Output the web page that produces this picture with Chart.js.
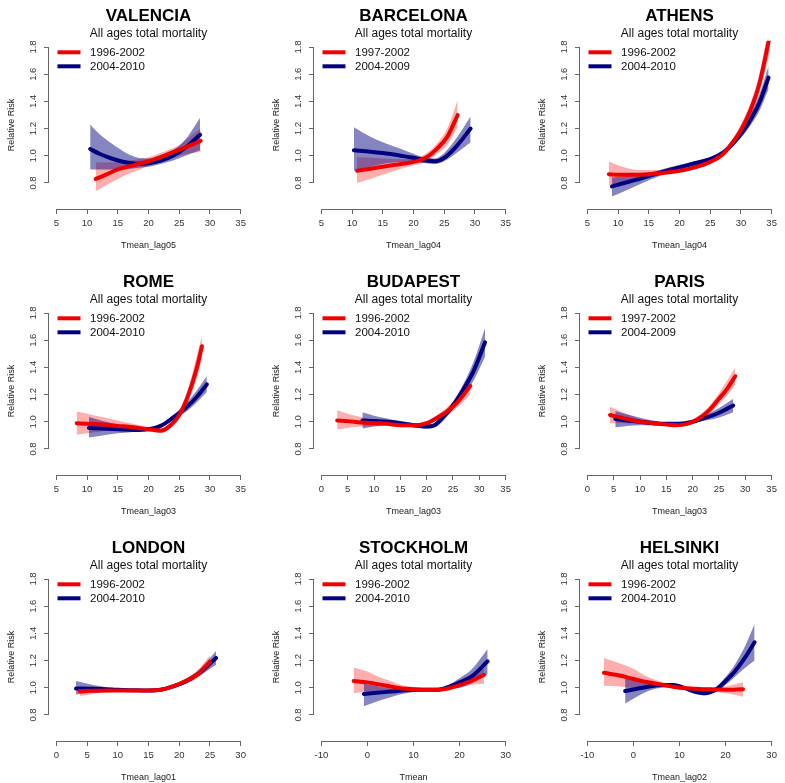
<!DOCTYPE html>
<html>
<head>
<meta charset="utf-8">
<script src="https://cdn.jsdelivr.net/npm/chart.js@4/dist/chart.umd.min.js"></script>
<style>
html, body { margin: 0; padding: 0; background: #fff; }
#wrap { position: relative; width: 785px; height: 783px; overflow: hidden; }
.panel { position: absolute; width: 266px; height: 266px; }
</style>
</head>
<body>
<div id="wrap"></div>
<script>
// legend labels (periods)
const periodsA = ['1996-2002', '2004-2010'];
const periodsB = ['1997-2002', '2004-2009'];

// tick labels
const yTicks = [0.8, 1.0, 1.2, 1.4, 1.6, 1.8];
const xTicks5 = [5, 10, 15, 20, 25, 30, 35];
const xTicks0 = [0, 5, 10, 15, 20, 25, 30, 35];
const xTicksLondon = [0, 5, 10, 15, 20, 25, 30];
const xTicksNordic = [-10, 0, 10, 20, 30];

// VALENCIA
const valenciaRedX  = [11.4, 13, 15, 17.5, 20, 22.5, 25, 27, 28.5];
const valenciaRedRR = [0.83, 0.86, 0.90, 0.93, 0.96, 1.0, 1.045, 1.08, 1.11];
const valenciaRedLo = [0.74, 0.78, 0.83, 0.88, 0.925, 0.96, 1.0, 1.02, 1.03];
const valenciaRedHi = [0.95, 0.95, 0.955, 0.97, 0.99, 1.03, 1.08, 1.15, 1.20];
const valenciaBlueX  = [10.5, 12, 14, 16, 18, 20, 22, 24, 26, 28.4];
const valenciaBlueRR = [1.05, 1.015, 0.98, 0.955, 0.942, 0.945, 0.965, 1.0, 1.06, 1.155];
const valenciaBlueLo = [0.90, 0.90, 0.90, 0.90, 0.91, 0.92, 0.94, 0.965, 1.0, 1.04];
const valenciaBlueHi = [1.23, 1.16, 1.09, 1.03, 0.99, 0.98, 0.995, 1.04, 1.12, 1.28];

// BARCELONA
const barcelonaRedX  = [10.8, 13, 15, 18, 20, 22, 24, 25.5, 27.2];
const barcelonaRedRR = [0.89, 0.905, 0.92, 0.94, 0.955, 0.985, 1.06, 1.14, 1.30];
const barcelonaRedLo = [0.80, 0.83, 0.86, 0.905, 0.93, 0.955, 1.02, 1.08, 1.21];
const barcelonaRedHi = [0.99, 0.985, 0.98, 0.975, 0.98, 1.015, 1.10, 1.20, 1.41];
const barcelonaBlueX  = [10.3, 13, 15, 18, 20, 22, 23.5, 25, 27, 29.3];
const barcelonaBlueRR = [1.04, 1.03, 1.02, 1.0, 0.985, 0.965, 0.96, 0.985, 1.07, 1.20];
const barcelonaBlueLo = [0.89, 0.92, 0.94, 0.955, 0.955, 0.945, 0.94, 0.96, 1.02, 1.10];
const barcelonaBlueHi = [1.21, 1.14, 1.10, 1.05, 1.015, 0.985, 0.98, 1.02, 1.13, 1.29];

// ATHENS
const athensRedX  = [8.5, 10, 12.5, 15, 17.5, 20, 22.5, 25, 27, 28.5, 30, 31.5, 33, 34.7];
const athensRedRR = [0.865, 0.86, 0.86, 0.865, 0.875, 0.89, 0.915, 0.955, 1.01, 1.09, 1.19, 1.33, 1.53, 1.88];
const athensRedLo = [0.78, 0.80, 0.83, 0.845, 0.86, 0.875, 0.90, 0.94, 0.995, 1.06, 1.155, 1.28, 1.46, 1.76];
const athensRedHi = [0.96, 0.93, 0.90, 0.895, 0.895, 0.905, 0.93, 0.97, 1.03, 1.11, 1.23, 1.38, 1.60, 2.0];
const athensBlueX  = [9, 11, 13, 15, 17.5, 20, 22.5, 25, 27, 28.5, 30, 31.5, 33, 34.5];
const athensBlueRR = [0.775, 0.80, 0.825, 0.85, 0.885, 0.915, 0.945, 0.975, 1.02, 1.08, 1.16, 1.26, 1.39, 1.575];
const athensBlueLo = [0.70, 0.74, 0.78, 0.82, 0.865, 0.90, 0.93, 0.96, 1.0, 1.06, 1.13, 1.22, 1.33, 1.49];
const athensBlueHi = [0.84, 0.85, 0.86, 0.875, 0.905, 0.935, 0.96, 0.99, 1.04, 1.10, 1.19, 1.30, 1.45, 1.66];

// ROME
const romeRedX  = [8.3, 10, 12.5, 15, 17.5, 20, 22, 23.5, 25, 26.5, 28, 28.7];
const romeRedRR = [0.99, 0.985, 0.98, 0.97, 0.96, 0.945, 0.935, 0.97, 1.05, 1.20, 1.42, 1.555];
const romeRedLo = [0.905, 0.915, 0.93, 0.945, 0.94, 0.93, 0.92, 0.95, 1.02, 1.15, 1.34, 1.47];
const romeRedHi = [1.075, 1.06, 1.035, 1.01, 0.985, 0.96, 0.95, 0.99, 1.08, 1.25, 1.51, 1.63];
const romeBlueX  = [10.3, 12.5, 15, 17.5, 20, 22, 24, 26, 28, 29.5];
const romeBlueRR = [0.955, 0.95, 0.945, 0.94, 0.945, 0.97, 1.03, 1.10, 1.19, 1.275];
const romeBlueLo = [0.885, 0.90, 0.915, 0.925, 0.935, 0.955, 1.01, 1.07, 1.15, 1.22];
const romeBlueHi = [1.035, 1.005, 0.98, 0.96, 0.955, 0.985, 1.05, 1.13, 1.24, 1.335];

// BUDAPEST
const budapestRedX  = [3, 5, 7.5, 10, 12.5, 15, 18, 20, 22, 24, 26, 28.3];
const budapestRedRR = [1.01, 1.005, 0.995, 0.99, 0.985, 0.975, 0.975, 0.99, 1.03, 1.08, 1.15, 1.265];
const budapestRedLo = [0.945, 0.955, 0.965, 0.97, 0.97, 0.965, 0.96, 0.975, 1.01, 1.05, 1.11, 1.20];
const budapestRedHi = [1.085, 1.06, 1.035, 1.015, 1.0, 0.99, 0.99, 1.005, 1.05, 1.11, 1.19, 1.30];
const budapestBlueX  = [7.8, 10, 12.5, 15, 17.5, 20, 21.5, 23, 25, 27, 29, 31.1];
const budapestBlueRR = [1.01, 1.005, 1.0, 0.99, 0.975, 0.965, 0.975, 1.03, 1.12, 1.24, 1.38, 1.585];
const budapestBlueLo = [0.95, 0.965, 0.975, 0.975, 0.96, 0.95, 0.96, 1.0, 1.09, 1.19, 1.31, 1.48];
const budapestBlueHi = [1.07, 1.045, 1.025, 1.005, 0.99, 0.98, 0.99, 1.05, 1.15, 1.28, 1.45, 1.69];

// PARIS
const parisRedX  = [4.3, 7, 10, 12.5, 15, 17, 19, 21, 23, 25, 26.5, 28.1];
const parisRedRR = [1.05, 1.025, 1.0, 0.99, 0.98, 0.975, 0.985, 1.02, 1.08, 1.17, 1.24, 1.335];
const parisRedLo = [0.99, 0.99, 0.985, 0.98, 0.97, 0.965, 0.975, 1.005, 1.05, 1.13, 1.19, 1.27];
const parisRedHi = [1.11, 1.065, 1.02, 1.0, 0.99, 0.985, 0.995, 1.035, 1.11, 1.21, 1.30, 1.40];
const parisBlueX  = [5.3, 7.5, 10, 12.5, 15, 17.5, 20, 22, 24, 26, 27.7];
const parisBlueRR = [1.02, 1.01, 1.0, 0.99, 0.985, 0.985, 1.0, 1.025, 1.05, 1.085, 1.12];
const parisBlueLo = [0.96, 0.97, 0.975, 0.975, 0.975, 0.975, 0.99, 1.005, 1.02, 1.045, 1.07];
const parisBlueHi = [1.08, 1.055, 1.03, 1.01, 0.995, 0.995, 1.01, 1.045, 1.08, 1.125, 1.17];

// LONDON
const londonRedX  = [3.8, 6, 8, 10, 12.5, 15, 17, 19, 21, 23, 25];
const londonRedRR = [0.976, 0.978, 0.98, 0.98, 0.98, 0.98, 0.985, 1.01, 1.05, 1.10, 1.19];
const londonRedLo = [0.94, 0.955, 0.965, 0.97, 0.973, 0.975, 0.978, 1.0, 1.03, 1.07, 1.15];
const londonRedHi = [1.01, 1.0, 0.995, 0.99, 0.987, 0.985, 0.992, 1.02, 1.065, 1.13, 1.24];
const londonBlueX  = [3.2, 6, 8, 10, 12.5, 15, 17, 19, 21, 23, 26];
const londonBlueRR = [0.995, 0.993, 0.99, 0.985, 0.982, 0.98, 0.985, 1.01, 1.045, 1.10, 1.22];
const londonBlueLo = [0.95, 0.965, 0.97, 0.975, 0.975, 0.975, 0.978, 1.0, 1.03, 1.08, 1.17];
const londonBlueHi = [1.05, 1.02, 1.005, 0.995, 0.99, 0.985, 0.993, 1.02, 1.06, 1.12, 1.27];

// STOCKHOLM
const stockholmRedX  = [-3, 0, 2.5, 5, 7.5, 10, 12.5, 15, 17.5, 20, 22.5, 25.3];
const stockholmRedRR = [1.05, 1.04, 1.025, 1.01, 0.995, 0.99, 0.985, 0.985, 0.995, 1.02, 1.05, 1.094];
const stockholmRedLo = [0.96, 0.975, 0.98, 0.98, 0.98, 0.975, 0.978, 0.98, 0.99, 1.0, 1.02, 1.03];
const stockholmRedHi = [1.15, 1.12, 1.08, 1.05, 1.02, 1.005, 0.995, 0.99, 1.0, 1.04, 1.08, 1.14];
const stockholmBlueX  = [-0.8, 2.5, 5, 7.5, 10, 12.5, 15, 17.5, 20, 22.5, 26.1];
const stockholmBlueRR = [0.955, 0.965, 0.972, 0.98, 0.985, 0.985, 0.985, 1.005, 1.04, 1.08, 1.195];
const stockholmBlueLo = [0.865, 0.905, 0.93, 0.955, 0.97, 0.978, 0.98, 0.99, 1.0, 1.03, 1.10];
const stockholmBlueHi = [1.03, 1.01, 0.995, 0.99, 0.995, 0.99, 0.99, 1.02, 1.07, 1.13, 1.285];

// HELSINKI
const helsinkiRedX  = [-6.4, -3, 0, 2.5, 5, 7.5, 10, 12.5, 15, 17.5, 20, 23.8];
const helsinkiRedRR = [1.11, 1.09, 1.065, 1.045, 1.03, 1.015, 1.0, 0.995, 0.99, 0.988, 0.986, 0.99];
const helsinkiRedLo = [1.015, 1.01, 1.0, 1.0, 1.005, 1.0, 0.99, 0.985, 0.975, 0.97, 0.96, 0.935];
const helsinkiRedHi = [1.22, 1.18, 1.14, 1.09, 1.055, 1.03, 1.01, 1.005, 1.0, 1.005, 1.01, 1.04];
const helsinkiBlueX  = [-1.8, 1, 3.5, 6, 8.5, 11, 13, 15.5, 18, 20, 22, 24, 26.3];
const helsinkiBlueRR = [0.976, 0.995, 1.01, 1.02, 1.02, 1.0, 0.975, 0.96, 0.99, 1.05, 1.12, 1.21, 1.335];
const helsinkiBlueLo = [0.885, 0.94, 0.98, 1.0, 1.005, 0.99, 0.965, 0.945, 0.97, 1.02, 1.08, 1.14, 1.20];
const helsinkiBlueHi = [1.07, 1.05, 1.04, 1.035, 1.035, 1.015, 0.99, 0.98, 1.01, 1.08, 1.17, 1.29, 1.47];

const FONT = "'Liberation Sans', Arial, sans-serif";
const RED = '#f00000';
const NAVY = '#000080';
const RED_BAND = 'rgba(255, 0, 0, 0.32)';
const BLUE_BAND = 'rgba(0, 0, 128, 0.48)';
const AXIS = '#666';
const NONE = 'rgba(0,0,0,0)';

const panels = [
  { city: 'VALENCIA', periods: periodsA, xTitle: 'Tmean_lag05', xTicks: xTicks5,
    red: [valenciaRedX, valenciaRedRR, valenciaRedLo, valenciaRedHi],
    blue: [valenciaBlueX, valenciaBlueRR, valenciaBlueLo, valenciaBlueHi] },
  { city: 'BARCELONA', periods: periodsB, xTitle: 'Tmean_lag04', xTicks: xTicks5,
    red: [barcelonaRedX, barcelonaRedRR, barcelonaRedLo, barcelonaRedHi],
    blue: [barcelonaBlueX, barcelonaBlueRR, barcelonaBlueLo, barcelonaBlueHi] },
  { city: 'ATHENS', periods: periodsA, xTitle: 'Tmean_lag04', xTicks: xTicks5,
    red: [athensRedX, athensRedRR, athensRedLo, athensRedHi],
    blue: [athensBlueX, athensBlueRR, athensBlueLo, athensBlueHi] },
  { city: 'ROME', periods: periodsA, xTitle: 'Tmean_lag03', xTicks: xTicks5,
    red: [romeRedX, romeRedRR, romeRedLo, romeRedHi],
    blue: [romeBlueX, romeBlueRR, romeBlueLo, romeBlueHi] },
  { city: 'BUDAPEST', periods: periodsA, xTitle: 'Tmean_lag03', xTicks: xTicks0,
    red: [budapestRedX, budapestRedRR, budapestRedLo, budapestRedHi],
    blue: [budapestBlueX, budapestBlueRR, budapestBlueLo, budapestBlueHi] },
  { city: 'PARIS', periods: periodsB, xTitle: 'Tmean_lag03', xTicks: xTicks0,
    red: [parisRedX, parisRedRR, parisRedLo, parisRedHi],
    blue: [parisBlueX, parisBlueRR, parisBlueLo, parisBlueHi] },
  { city: 'LONDON', periods: periodsA, xTitle: 'Tmean_lag01', xTicks: xTicksLondon,
    red: [londonRedX, londonRedRR, londonRedLo, londonRedHi],
    blue: [londonBlueX, londonBlueRR, londonBlueLo, londonBlueHi] },
  { city: 'STOCKHOLM', periods: periodsA, xTitle: 'Tmean', xTicks: xTicksNordic,
    red: [stockholmRedX, stockholmRedRR, stockholmRedLo, stockholmRedHi],
    blue: [stockholmBlueX, stockholmBlueRR, stockholmBlueLo, stockholmBlueHi] },
  { city: 'HELSINKI', periods: periodsA, xTitle: 'Tmean_lag02', xTicks: xTicksNordic,
    red: [helsinkiRedX, helsinkiRedRR, helsinkiRedLo, helsinkiRedHi],
    blue: [helsinkiBlueX, helsinkiBlueRR, helsinkiBlueLo, helsinkiBlueHi] },
];

const colLeft = [0, 265, 531];
const rowTop = [0, 266, 532];

// axis lines only between first and last tick, like base R
const rAxes = {
  id: 'rAxes',
  afterDraw(chart) {
    const { ctx, chartArea } = chart;
    const x = chart.scales.x, y = chart.scales.y;
    const yb = Math.round(chartArea.bottom) + 0.5;
    const xl = Math.round(chartArea.left) - 0.5;
    ctx.save();
    ctx.strokeStyle = AXIS;
    ctx.lineWidth = 1;
    ctx.beginPath();
    ctx.moveTo(x.getPixelForValue(x.ticks[0].value), yb);
    ctx.lineTo(x.getPixelForValue(x.ticks[x.ticks.length - 1].value), yb);
    ctx.moveTo(xl, y.getPixelForValue(y.ticks[0].value));
    ctx.lineTo(xl, y.getPixelForValue(y.ticks[y.ticks.length - 1].value));
    ctx.stroke();
    ctx.restore();
  }
};

// legend in top-left corner of plot region
const rLegend = {
  id: 'rLegend',
  afterDraw(chart) {
    const { ctx, chartArea } = chart;
    ctx.save();
    chart.data.datasets.slice(0, 2).forEach((ds, i) => {
      const yy = chartArea.top + 11.5 + i * 14;
      ctx.strokeStyle = ds.borderColor;
      ctx.lineWidth = 4;
      ctx.lineCap = 'butt';
      ctx.beginPath();
      ctx.moveTo(chartArea.left + 8.5, yy);
      ctx.lineTo(chartArea.left + 31.5, yy);
      ctx.stroke();
      ctx.fillStyle = '#111';
      ctx.font = '11.5px ' + FONT;
      ctx.textBaseline = 'middle';
      ctx.textAlign = 'left';
      ctx.fillText(ds.label, chartArea.left + 41, yy + 0.5);
    });
    ctx.restore();
  }
};

const pts = (xs, ys) => xs.map((x, k) => ({ x: x, y: ys[k] }));

panels.forEach((p, i) => {
  const div = document.createElement('div');
  div.className = 'panel';
  div.style.left = colLeft[i % 3] + 'px';
  div.style.top = rowTop[Math.floor(i / 3)] + 'px';
  const canvas = document.createElement('canvas');
  canvas.width = 266;
  canvas.height = 266;
  div.appendChild(canvas);
  document.getElementById('wrap').appendChild(div);

  const lo = p.xTicks[0], hi = p.xTicks[p.xTicks.length - 1];
  const pad = (hi - lo) * 0.04;

  new Chart(canvas.getContext('2d'), {
    type: 'line',
    data: {
      datasets: [
        { label: p.periods[0], data: pts(p.red[0], p.red[1]), borderColor: RED, borderWidth: 4, order: 1 },
        { label: p.periods[1], data: pts(p.blue[0], p.blue[1]), borderColor: NAVY, borderWidth: 4, order: 2 },
        { label: 'red upper', data: pts(p.red[0], p.red[3]), borderColor: NONE, borderWidth: 1, order: 4 },
        { label: 'red lower', data: pts(p.red[0], p.red[2]), borderColor: NONE, borderWidth: 1, order: 4,
          fill: 2, backgroundColor: RED_BAND },
        { label: 'blue upper', data: pts(p.blue[0], p.blue[3]), borderColor: NONE, borderWidth: 1, order: 3 },
        { label: 'blue lower', data: pts(p.blue[0], p.blue[2]), borderColor: NONE, borderWidth: 1, order: 3,
          fill: 4, backgroundColor: BLUE_BAND },
      ]
    },
    options: {
      responsive: false,
      animation: false,
      events: [],
      layout: { padding: { left: 0, top: 0, right: 18, bottom: 0 } },
      elements: {
        point: { radius: 0 },
        line: { cubicInterpolationMode: 'monotone', borderCapStyle: 'round', borderJoinStyle: 'round' }
      },
      plugins: {
        legend: { display: false },
        tooltip: { enabled: false },
        title: {
          display: true, text: p.city, fullSize: false, color: '#000',
          font: { family: FONT, size: 17, weight: 'bold' },
          padding: { top: 6, bottom: 0 }
        },
        subtitle: {
          display: true, text: 'All ages total mortality', fullSize: false, color: '#111',
          font: { family: FONT, size: 12 },
          padding: { top: 0, bottom: 0 }
        }
      },
      scales: {
        x: {
          type: 'linear',
          bounds: 'data',
          min: lo - pad,
          max: hi + pad,
          afterBuildTicks: axis => { axis.ticks = p.xTicks.map(v => ({ value: v })); },
          afterFit: s => { s.height = 57; },
          border: { display: false },
          grid: { drawOnChartArea: false, drawTicks: true, tickLength: 5, color: AXIS },
          ticks: {
            autoSkip: false, maxRotation: 0, minRotation: 0, padding: 4, color: '#333',
            font: { family: FONT, size: 9.5 },
            callback: v => String(v)
          },
          title: {
            display: true, text: p.xTitle, color: '#222',
            font: { family: FONT, size: 9 },
            padding: { top: 0, bottom: 15 }
          }
        },
        y: {
          type: 'linear',
          bounds: 'data',
          min: 0.6088,
          max: 1.8456,
          afterBuildTicks: axis => { axis.ticks = yTicks.map(v => ({ value: v })); },
          afterFit: s => { s.width = 49; },
          border: { display: false },
          grid: { drawOnChartArea: false, drawTicks: true, tickLength: 5, color: AXIS },
          ticks: {
            autoSkip: false, minRotation: 90, maxRotation: 90, crossAlign: 'center', padding: 4,
            color: '#333', font: { family: FONT, size: 9.5 },
            callback: v => v.toFixed(1)
          },
          title: {
            display: true, text: 'Relative Risk', color: '#222',
            font: { family: FONT, size: 9 },
            padding: { top: 6, bottom: 0 }
          }
        }
      }
    },
    plugins: [rAxes, rLegend]
  });
});
</script>
</body>
</html>
